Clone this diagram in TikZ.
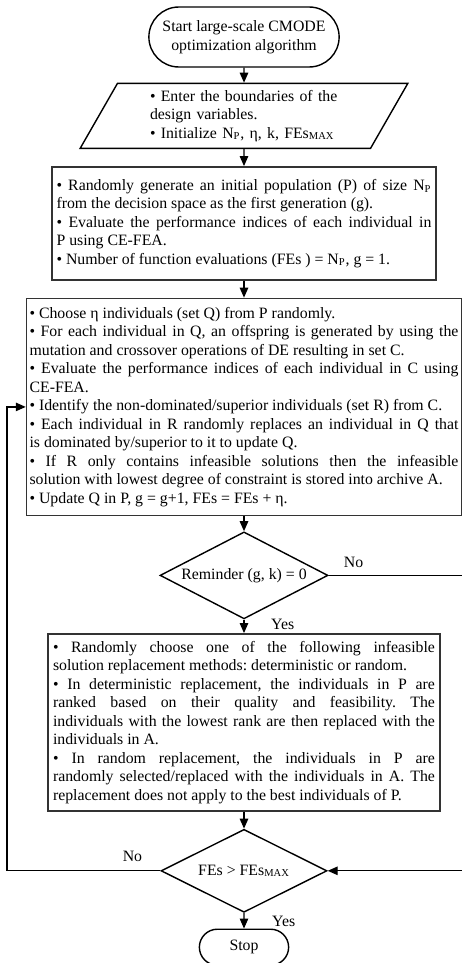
\documentclass[tikz,border=0pt]{standalone}
\usepackage{fontspec}
\setmainfont{Liberation Serif}
\usetikzlibrary{shapes.geometric,shapes.misc,arrows.meta,positioning}
\hyphenpenalty=10000
\tolerance=9999
\frenchspacing

\begin{document}
\begin{tikzpicture}[x=0.02cm, y=-0.02cm,
    every node/.style={font=\fontsize{9}{10.5}\selectfont},
    flow/.style={-{Triangle[length=0.2cm,width=0.17cm]}, line width=0.7pt},
    terminal/.style={draw, line width=0.8pt, rounded rectangle},
    textbox/.style={draw=black!80, line width=0.9pt, align=justify},
    decision/.style={draw, line width=0.8pt, diamond, aspect=2, inner sep=0pt}]
    \useasboundingbox (0,0) rectangle (462,963);

    \node[terminal, align=center, minimum width=4.04cm, minimum height=1.2cm] (start) at (244,37) {Start large-scale CMODE\\optimization algorithm};
    \node[draw, line width=0.8pt, trapezium, trapezium left angle=65, trapezium right angle=115, trapezium stretches=true,
        minimum width=6.56cm, minimum height=1.3cm, text width=3.76cm, align=left, below=0.30cm of start] (input)
        {• Enter the boundaries of the\\design variables.\\• Initialize N\textsubscript{P}, η, k, FEs\textsubscript{MAX}};

    \node[textbox, text width=7.5cm, inner xsep=0.09cm, minimum height=2.26cm, below=0.34cm of input] (init) {%
        • Randomly generate an initial population (P) of size N\textsubscript{P}\linebreak
        from the decision space as the first generation (g).\par
        • Evaluate the performance indices of each individual in\linebreak
        P using CE-FEA.\par
        • Number of function evaluations (FEs ) = N\textsubscript{P}, g = 1.};

    \node[textbox, text width=8.58cm, inner xsep=0.06cm, minimum height=4.34cm, below=0.34cm of init] (evolve) {%
        • Choose η individuals (set Q) from P randomly.\par
        • For each individual in Q, an offspring is generated by using the\linebreak
        mutation and crossover operations of DE resulting in set C.\par
        • Evaluate the performance indices of each individual in C using\linebreak
        CE-FEA.\par
        • Identify the non-dominated/superior individuals (set R) from C.\par
        • Each individual in R randomly replaces an individual in Q that\linebreak
        is dominated by/superior to it to update Q.\par
        • If R only contains infeasible solutions then the infeasible\linebreak
        solution with lowest degree of constraint is stored into archive A.\par
        • Update Q in P, g = g+1, FEs = FEs + η.};

    \node[decision, minimum width=3.36cm, minimum height=1.74cm, below=0.30cm of evolve] (remind) {Reminder (g, k) = 0};

    \node[textbox, text width=7.64cm, inner xsep=0.1cm, minimum height=3.54cm, below=0.27cm of remind] (replace) {%
        • Randomly choose one of the following infeasible\linebreak
        solution replacement methods: deterministic or random.\par
        • In deterministic replacement, the individuals in P are\linebreak
        ranked based on their quality and feasibility. The\linebreak
        individuals with the lowest rank are then replaced with the\linebreak
        individuals in A.\par
        • In random replacement, the individuals in P are\linebreak
        randomly selected/replaced with the individuals in A. The\linebreak
        replacement does not apply to the best individuals of P.};

    \node[decision, minimum width=3.32cm, minimum height=1.66cm, below=0.34cm of replace] (budget) {FEs > FEs\textsubscript{MAX}};
    \node[terminal, minimum width=2.02cm, minimum height=0.72cm, below=0.31cm of budget] (stop) {Stop};

    % loop corners
    \coordinate (loopL) at (7,874);
    \coordinate (loopR) at (466,577);

    \draw[flow] (start) -- (input);
    \draw[flow] (input) -- (init);
    \draw[flow] (init) -- (evolve);
    \draw[flow] (evolve) -- (remind);
    \draw[flow] (remind) -- (replace);
    \draw[flow] (replace) -- (budget);
    \draw[flow] (budget) -- (stop);
    \draw[flow] (remind.east) -- (remind.east -| loopR) |- (budget.east);
    \draw[flow] (budget.west) -- (budget.west -| loopL) |- (evolve.west);

    \node[above right=0.04cm and 0.18cm of remind.east] (no1) {No};
    \node[right=0.42cm of remind.south, yshift=-0.1cm] (yes1) {Yes};
    \node[above left=0.06cm and 0.24cm of budget.west] (no2) {No};
    \node[right=0.44cm of budget.south, yshift=-0.16cm] (yes2) {Yes};
\end{tikzpicture}
\end{document}
